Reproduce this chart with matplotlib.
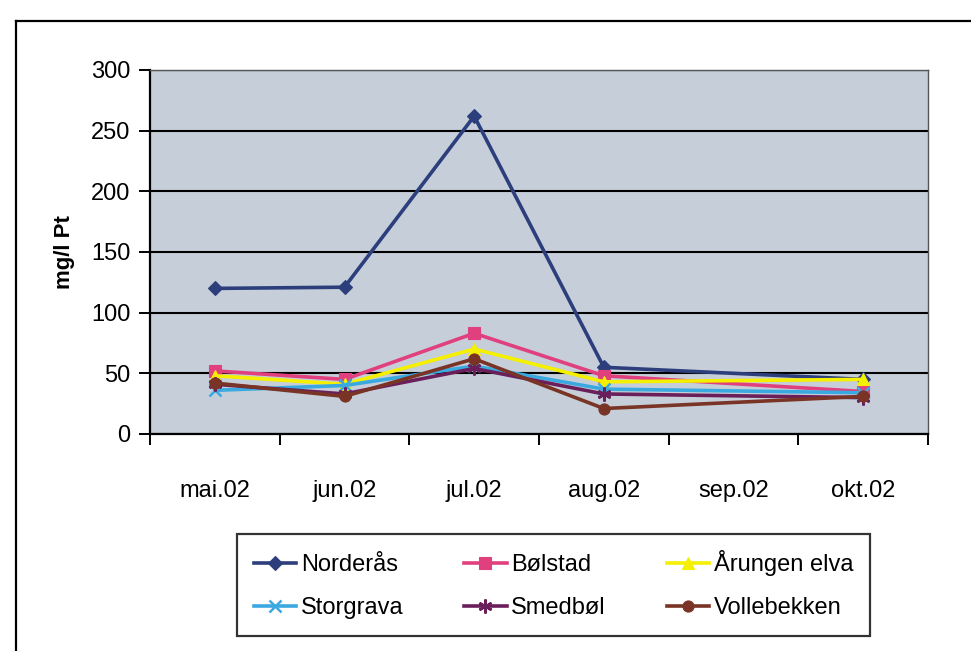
import numpy as np
import matplotlib
matplotlib.use("Agg")
import matplotlib.pyplot as plt
from matplotlib.lines import Line2D

plt.rcParams['font.family'] = ['Liberation Sans', 'DejaVu Sans']

months = ["mai.02", "jun.02", "jul.02", "aug.02", "sep.02", "okt.02"]
nan = np.nan
norderas     = [120, 121, 262, 55, nan, 45]
bolstad      = [52, 45, 83, 48, nan, 35]
arungen_elva = [48, 41, 70, 43, nan, 45]
storgrava    = [36, 40, 56, 37, nan, 34]
smedbol      = [41, 33, 54, 33, nan, 30]
vollebekken  = [42, 31, 62, 21, nan, 31]

series = [
    ("Norderås", norderas, "#2c3f7c", "D", 7),
    ("Bølstad", bolstad, "#e0407e", "s", 8),
    ("Årungen elva", arungen_elva, "#f4f000", "^", 9),
    ("Storgrava", storgrava, "#3aa9e0", "x", 9),
    ("Smedbøl", smedbol, "#6a1f5a", (6, 2, 0), 10),
    ("Vollebekken", vollebekken, "#7a3426", "o", 8),
]

fig = plt.figure(figsize=(9.71, 6.51), dpi=100)
fig.patch.set_facecolor("white")

# outer chart border (left and top edges visible)
fig.add_artist(Line2D([16/971, 16/971], [0.0, 0.968], transform=fig.transFigure,
                      color="black", lw=1.6))
fig.add_artist(Line2D([16/971, 1.0], [0.968, 0.968], transform=fig.transFigure,
                      color="black", lw=1.6))

ax = fig.add_axes([150/971, 1 - 434/651, 778/971, 364/651])
ax.set_facecolor("#c5ced9")

x = np.arange(len(months))
handles = {}
for name, vals, color, marker, ms in series:
    v = np.array(vals, dtype=float)
    m = ~np.isnan(v)
    h, = ax.plot(x[m], v[m], color=color, lw=2.6, marker=marker, markersize=ms,
                 markeredgewidth=1.8 if marker in ("x",) or isinstance(marker, tuple) else 0.8,
                 markeredgecolor=color, markerfacecolor=color, label=name, zorder=3)
    handles[name] = h

ax.set_xlim(-0.5, len(months) - 0.5)
ax.set_ylim(0, 300)
ax.set_yticks(np.arange(0, 301, 50))
ax.yaxis.grid(True, color="black", lw=1.5)
ax.set_axisbelow(True)

ax.set_xticks(x)
ax.set_xticklabels(months, fontsize=17)
ax.set_xticks(np.arange(-0.5, len(months), 1), minor=True)
ax.tick_params(axis="x", which="major", length=0, pad=33)
ax.tick_params(axis="x", which="minor", length=8, width=1.4, direction="out")
ax.tick_params(axis="y", length=8, width=1.4, labelsize=17, pad=6)

for side in ("left", "bottom"):
    ax.spines[side].set_linewidth(1.6)
for side in ("right", "top"):
    ax.spines[side].set_linewidth(1.0)
    ax.spines[side].set_color("#555555")

ax.set_ylabel("mg/l Pt", fontsize=16, fontweight="bold", labelpad=12)

order = ["Norderås", "Storgrava", "Bølstad", "Smedbøl", "Årungen elva", "Vollebekken"]
leg = fig.legend([handles[n] for n in order], order, ncol=3,
                 loc="lower left", bbox_to_anchor=(237/971, 15/651, 633/971, 100/651),
                 mode="expand", fontsize=17, frameon=True, fancybox=False,
                 edgecolor="black", handlelength=1.8, handletextpad=0.2,
                 borderpad=0.7, labelspacing=0.9, columnspacing=1.0,
                 borderaxespad=0.0)
leg.get_frame().set_linewidth(1.6)

fig.savefig("out.png", dpi=100, facecolor="white")
